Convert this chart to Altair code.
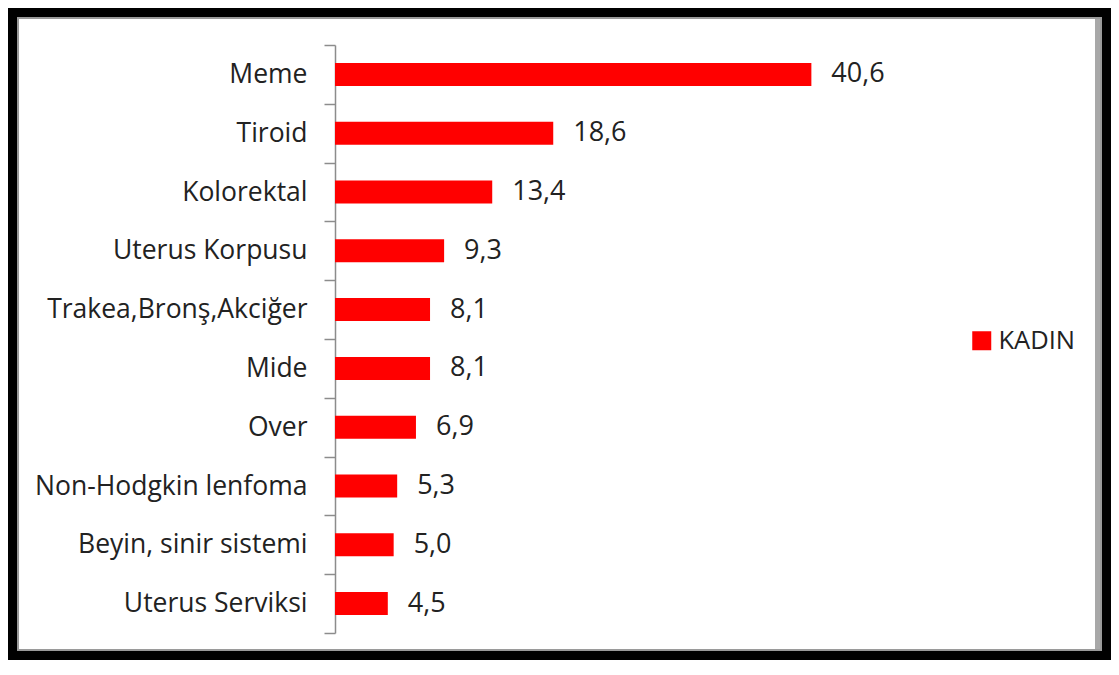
import altair as alt
import pandas as pd

categories = ["Meme", "Tiroid", "Kolorektal", "Uterus Korpusu", "Trakea,Bronş,Akciğer",
              "Mide", "Over", "Non-Hodgkin lenfoma", "Beyin, sinir sistemi", "Uterus Serviksi"]
values = [40.6, 18.6, 13.4, 9.3, 8.1, 8.1, 6.9, 5.3, 5.0, 4.5]
series = ["KADIN"] * len(categories)

df = pd.DataFrame({"kategori": categories, "deger": values, "seri": series})

FONT = "Open Sans"
W, H = 528, 588
SVG_W, SVG_H = 1103, 652
PL, PT = 327, 37

y_enc = alt.Y("kategori:N", sort=categories,
              scale=alt.Scale(paddingInner=0, paddingOuter=0),
              axis=alt.Axis(title=None, tickBand="extent", tickSize=11, domainColor="#8c8c8c",
                            tickColor="#8c8c8c", domainWidth=1.5, tickWidth=1.5,
                            labelFont=FONT, labelFontSize=26.5, labelColor="#222222",
                            labelPadding=17, labelLimit=400, grid=False))
x_enc = alt.X("deger:Q", scale=alt.Scale(domain=[0, 45], nice=False, zero=True), axis=None)

bars = alt.Chart(df).mark_bar(size=23).encode(
    y=y_enc, x=x_enc,
    color=alt.Color("seri:N", scale=alt.Scale(domain=["KADIN"], range=["#ff0000"]),
                    legend=alt.Legend(title=None, orient="none", legendX=634, legendY=283,
                                      symbolType="square", symbolSize=361, symbolStrokeWidth=0,
                                      labelFont=FONT, labelFontSize=25.5, labelColor="#222222",
                                      labelOffset=4, padding=0))
)

labels = alt.Chart(df).transform_calculate(
    etiket="replace(format(datum.deger, '.1f'), '.', ',')"
).mark_text(align="left", baseline="middle", dx=20, font=FONT, fontSize=27, color="#222222").encode(
    y=alt.Y("kategori:N", sort=categories), x=alt.X("deger:Q"), text="etiket:N"
)

one = alt.Data(values=[{"a": 1}])
frame_black = alt.Chart(one).mark_rect(fill=None, stroke="black", strokeWidth=9).encode(
    x=alt.value(4.5 - PL), x2=alt.value(SVG_W - 4.5 - PL),
    y=alt.value(4.5 - PT), y2=alt.value(SVG_H - 4.5 - PT))
frame_gray = alt.Chart(one).mark_rect(fill=None, stroke="#9a9a9a", strokeWidth=2).encode(
    x=alt.value(10 - PL), x2=alt.value(SVG_W - 10 - PL),
    y=alt.value(10 - PT), y2=alt.value(SVG_H - 10 - PT))
frame_right = alt.Chart(one).mark_rect(fill="#a8a8a8").encode(
    x=alt.value(SVG_W - 16 - PL), x2=alt.value(SVG_W - 9 - PL),
    y=alt.value(9 - PT), y2=alt.value(SVG_H - 9 - PT))

chart = alt.layer(frame_right, frame_gray, frame_black, bars, labels).properties(
    width=W, height=H,
    autosize=alt.AutoSizeParams(type="none"),
    padding={"left": PL, "top": PT, "right": SVG_W - PL - W, "bottom": SVG_H - PT - H},
    background="white"
).configure_view(stroke=None)

chart.save("out.html", embed_options={"renderer": "svg", "actions": False})
